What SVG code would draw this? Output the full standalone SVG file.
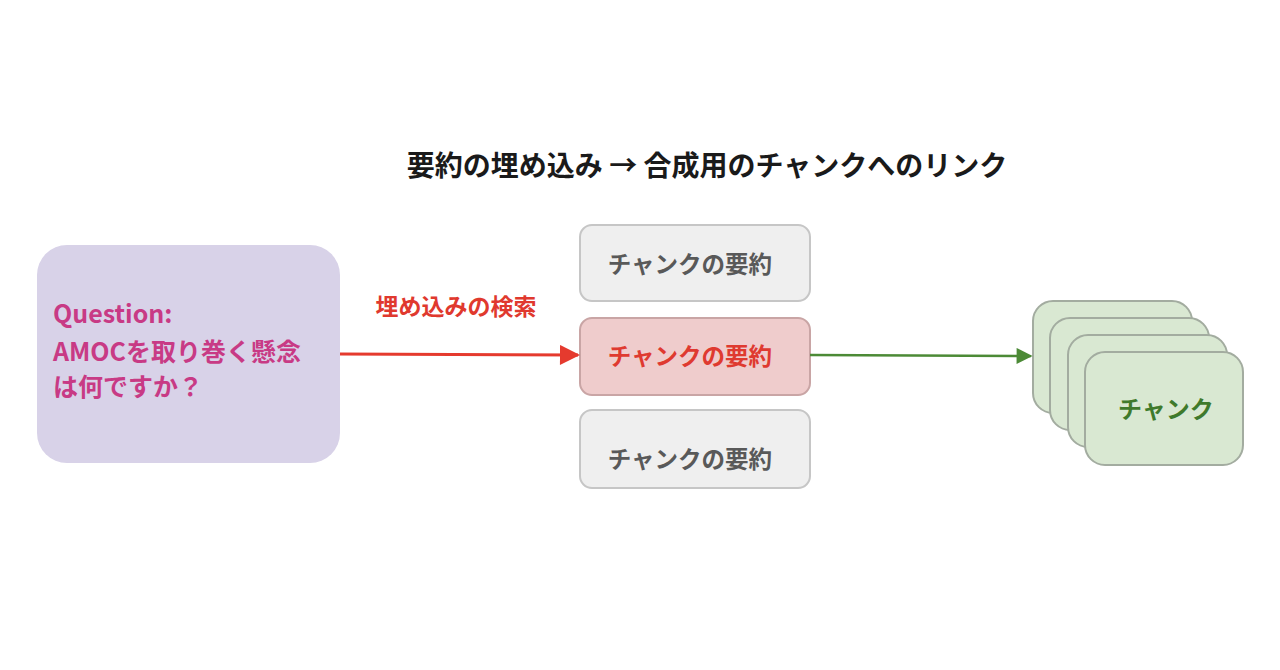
<svg xmlns="http://www.w3.org/2000/svg" width="1280" height="670" viewBox="0 0 1280 670">
<defs>
<style>
text{font-family:"Noto Sans CJK JP","Noto Sans",sans-serif;font-weight:bold}
.sum{fill:#efefef;stroke:#c6c6c6;stroke-width:2}
.sumt{fill:#595959;font-size:23.5px;text-anchor:middle}
.card{fill:#d9e8d2;stroke:#a3aca0;stroke-width:2}
</style>
<marker id="ar" viewBox="0 0 10 10" refX="9" refY="5" markerWidth="25" markerHeight="20" markerUnits="userSpaceOnUse" orient="auto"><path d="M0,0 L10,5 L0,10 z" fill="#e53a2e"/></marker>
<marker id="ag" viewBox="0 0 10 10" refX="9" refY="5" markerWidth="20" markerHeight="16" markerUnits="userSpaceOnUse" orient="auto"><path d="M0,0 L10,5 L0,10 z" fill="#4c8a36"/></marker>
</defs>
<rect width="1280" height="670" fill="#ffffff"/>
<g id="title"><text x="707" y="176" font-size="28" fill="#1a1a1a" text-anchor="middle">要約の埋め込み → 合成用のチャンクへのリンク</text></g>
<g id="question">
<rect x="37" y="245" width="303" height="218" rx="30" fill="#d8d2e8"/>
<text font-size="25" fill="#c83a85"><tspan x="53" y="323">Question:</tspan><tspan x="53" y="361">AMOCを取り巻く懸念</tspan><tspan x="53" y="396">は何ですか？</tspan></text>
</g>
<g id="summary1"><rect class="sum" x="580" y="225" width="230" height="76" rx="12"/><text class="sumt" x="690" y="273">チャンクの要約</text></g>
<g id="summary2"><rect x="580" y="318" width="230" height="77" rx="12" fill="#efcccc" stroke="#c9a5a5" stroke-width="2"/><text class="sumt" x="690" y="365" style="fill:#df3a30">チャンクの要約</text></g>
<g id="summary3"><rect class="sum" x="580" y="410" width="230" height="78" rx="12"/><text class="sumt" x="690" y="468">チャンクの要約</text></g>
<g id="chunks">
<rect class="card" x="1033" y="301" width="159" height="112" rx="20"/>
<rect class="card" x="1050" y="318" width="159" height="112" rx="20"/>
<rect class="card" x="1068" y="335" width="159" height="112" rx="20"/>
<rect class="card" x="1085" y="352" width="158" height="113" rx="20"/>
<text x="1166" y="418" font-size="24" fill="#3f7a2c" text-anchor="middle">チャンク</text>
</g>
<g id="connectors">
<line x1="340" y1="354" x2="578" y2="355" stroke="#e53a2e" stroke-width="3" marker-end="url(#ar)"/>
<text x="456" y="315" font-size="23" fill="#e0392e" text-anchor="middle">埋め込みの検索</text>
<line x1="810" y1="355" x2="1031" y2="356" stroke="#4c8a36" stroke-width="2.5" marker-end="url(#ag)"/>
</g>
</svg>
